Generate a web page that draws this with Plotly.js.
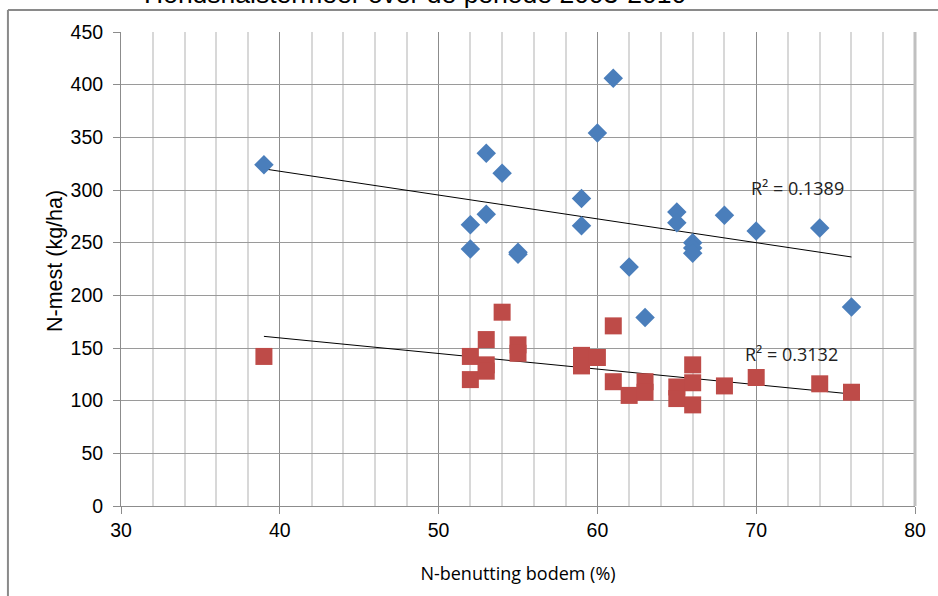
<!DOCTYPE html>
<html>
<head>
<meta charset="utf-8">
<script src="https://cdn.plot.ly/plotly-3.0.1.min.js"></script>
<style>html,body{margin:0;padding:0;background:#fff;}#chart{width:938px;height:596px;}</style>
</head>
<body>
<div id="chart"></div>
<script>
// Blue series (diamonds)
var blueX = [39, 52, 52, 53, 53, 54, 55, 55, 59, 59, 60, 61, 62, 63, 65, 65, 66, 66, 66, 68, 70, 74, 76];
var blueY = [324, 267, 244, 335, 277, 316, 241, 239, 292, 266, 354, 406, 227, 179, 279, 269, 250, 245, 240, 276, 261, 264, 189];
// Red series (squares)
var redX = [39, 52, 52, 53, 53, 53, 54, 55, 55, 59, 59, 60, 61, 61, 62, 63, 63, 65, 65, 66, 66, 66, 68, 70, 74, 76];
var redY = [142, 142, 120, 158, 134, 128, 184, 153, 145, 143, 133, 141, 171, 118, 105, 118, 108, 113, 102, 134, 117, 96, 114, 122, 116, 108];
var r2Labels = ["R² = 0.1389", "R² = 0.3132"];
var titleText = "Hondshalstermeer over de periode 2003-2010";
var xTitle = "N-benutting bodem (%)";
var yTitle = "N-mest (kg/ha)";

function fit(xs, ys) {
  var n = xs.length, sx = 0, sy = 0, sxx = 0, sxy = 0;
  for (var i = 0; i < n; i++) { sx += xs[i]; sy += ys[i]; sxx += xs[i]*xs[i]; sxy += xs[i]*ys[i]; }
  var b = (n*sxy - sx*sy) / (n*sxx - sx*sx);
  var a = (sy - b*sx) / n;
  var x0 = Math.min.apply(null, xs), x1 = Math.max.apply(null, xs);
  return {x: [x0, x1], y: [a + b*x0, a + b*x1]};
}
var fb = fit(blueX, blueY), fr = fit(redX, redY);

var traces = [
  {type: 'scatter', mode: 'lines', x: fb.x, y: fb.y, line: {color: '#000', width: 1}, hoverinfo: 'skip'},
  {type: 'scatter', mode: 'lines', x: fr.x, y: fr.y, line: {color: '#000', width: 1}, hoverinfo: 'skip'},
  {type: 'scatter', mode: 'markers', x: blueX, y: blueY, marker: {symbol: 'diamond', size: 15, color: '#4a7ebb'}},
  {type: 'scatter', mode: 'markers', x: redX, y: redY, marker: {symbol: 'square', size: 17, color: '#be4b48'}}
];

var tickFont = {family: 'Liberation Sans, Arial, sans-serif', size: 19.5, color: '#000'};
var layout = {
  width: 938, height: 596,
  margin: {l: 121, r: 23, t: 32, b: 90},
  paper_bgcolor: '#fff', plot_bgcolor: '#fff',
  showlegend: false,
  xaxis: {
    range: [30, 80], dtick: 10, tick0: 30,
    showgrid: true, gridcolor: '#8c8c8c', gridwidth: 1,
    minor: {dtick: 2, showgrid: true, gridcolor: '#d8d8d8', gridwidth: 2},
    showline: true, linecolor: '#8c8c8c', linewidth: 1,
    ticks: 'outside', ticklen: 7, tickcolor: '#8c8c8c',
    tickfont: tickFont, zeroline: false, automargin: false,
    title: {text: xTitle, font: {family: 'Open Sans, sans-serif', size: 18, color: '#000'}, standoff: 26}
  },
  yaxis: {
    range: [0, 450], dtick: 50,
    showgrid: true, gridcolor: '#9a9a9a', gridwidth: 1,
    showline: true, linecolor: '#8c8c8c', linewidth: 1,
    ticks: 'outside', ticklen: 7, tickcolor: '#8c8c8c',
    tickfont: tickFont, zeroline: false, ticklabelstandoff: 6, automargin: false
  },
  annotations: [
    {text: r2Labels[0], x: 72.6, y: 302, xref: 'x', yref: 'y', showarrow: false, font: {family: 'Open Sans, sans-serif', size: 18, color: '#222'}},
    {text: r2Labels[1], x: 72.2, y: 144, xref: 'x', yref: 'y', showarrow: false, font: {family: 'Open Sans, sans-serif', size: 18, color: '#222'}},
    {text: yTitle, textangle: -90, x: -0.1, y: 0.67, xref: 'paper', yref: 'paper', showarrow: false, font: {family: 'Liberation Sans, Arial, sans-serif', size: 21.5, color: '#000'}},
    {text: titleText, x: 0.37, y: 1.0445, xref: 'paper', yref: 'paper', xanchor: 'center', yanchor: 'bottom', showarrow: false, font: {family: 'Liberation Sans, Arial, sans-serif', size: 26.5, color: '#000'}}
  ],
  shapes: [
    {type: 'line', xref: 'paper', yref: 'paper', x0: -0.1424, x1: 1.03, y0: 1.0465, y1: 1.0465, line: {color: '#8a8a8a', width: 2}},
    {type: 'line', xref: 'paper', yref: 'paper', x0: -0.1424, x1: -0.1424, y0: 1.0465, y1: -0.2, line: {color: '#8a8a8a', width: 2}},
    {type: 'line', xref: 'paper', yref: 'paper', x0: 1, x1: 1, y0: 0, y1: 1, line: {color: '#c0c0c0', width: 3}}
  ]
};
Plotly.newPlot('chart', traces, layout, {displayModeBar: false, staticPlot: true});
</script>
</body>
</html>
